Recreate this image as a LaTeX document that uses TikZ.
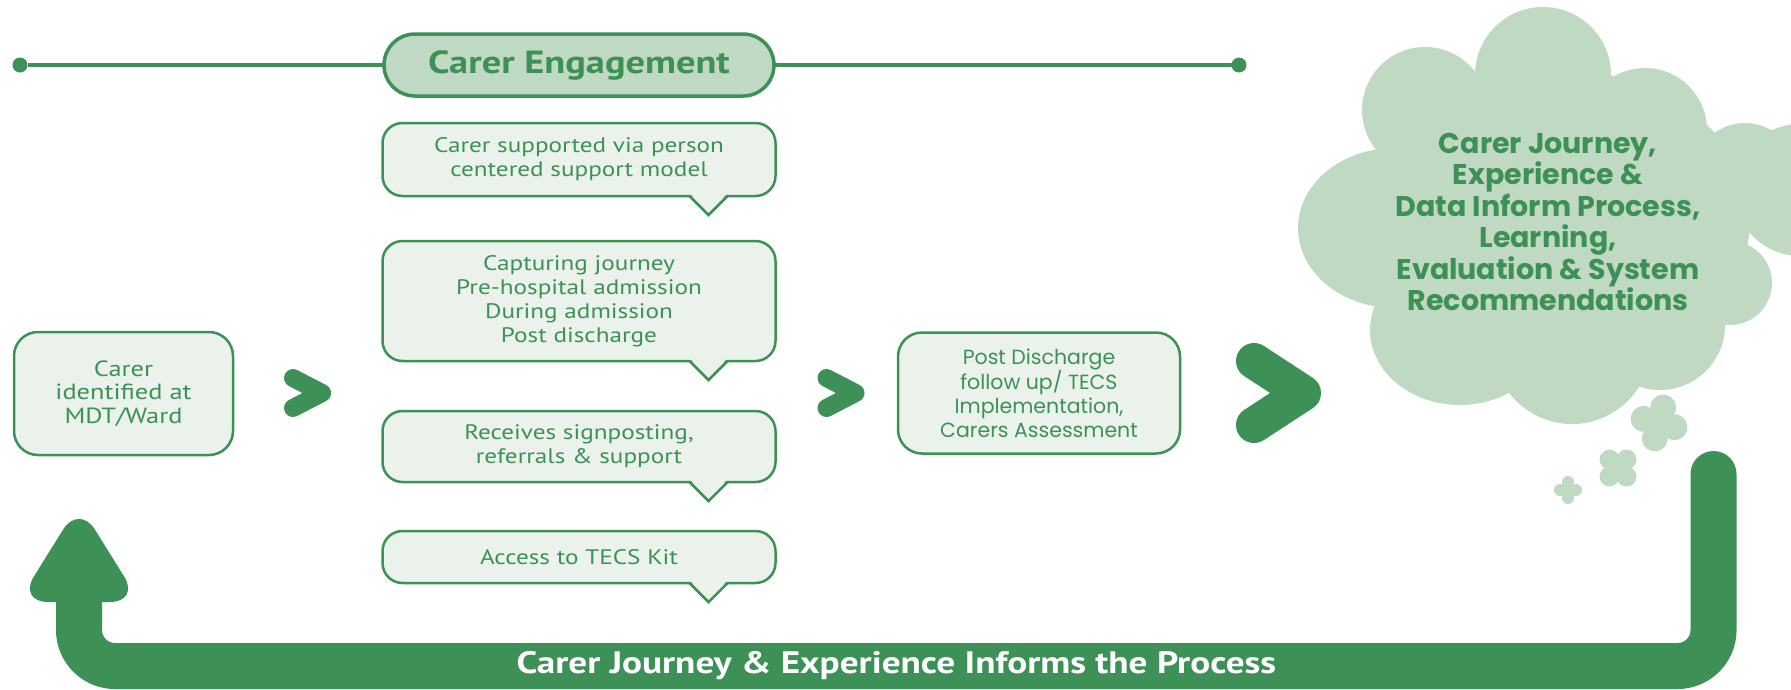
\documentclass[tikz,border=0pt]{standalone}
\usepackage{fontspec}
\setmainfont{PT Sans}[FakeStretch=1.2]
\newfontfamily\popfont{Poppins}
\usetikzlibrary{positioning}

\definecolor{leaf}{RGB}{61,145,86}
\definecolor{sage}{RGB}{192,217,194}
\definecolor{mist}{RGB}{235,242,236}

\tikzset{
  box/.style={draw=leaf, fill=mist, line width=2.5pt, rounded corners=24pt, text=leaf,
    align=center, outer sep=0pt, inner sep=0pt},
  bubble/.style={box, rounded corners=20pt, minimum width=393pt, font=\fontsize{21}{24}\selectfont},
  chev/.style={draw=leaf, line cap=round, line join=round},
  dot/.style={circle, fill=leaf, minimum size=15pt, inner sep=0pt, outer sep=0pt},
}

\begin{document}
\begin{tikzpicture}[x=1pt, y=-1pt]
    \useasboundingbox (0,0) rectangle (1791,689);
    \clip (0,0) rectangle (1791,689);

    % cloud on the right
    \begin{scope}[fill=sage]
        \fill (1543,75) circle (68pt);
        \fill (1425,110) circle (63pt);
        \fill (1645,130) circle (62pt);
        \fill (1745,175) circle (52pt);
        \fill (1800,190) circle (66pt);
        \fill (1730,283) circle (42pt);
        \fill (1660,325) circle (65pt);
        \fill (1572,345) circle (79pt);
        \fill (1460,330) ellipse (90pt and 75pt);
        \fill (1395,228) ellipse (97pt and 80pt);
        \fill (1560,220) ellipse (190pt and 150pt);
    \end{scope}
    \node[text=leaf, align=center, font=\popfont\bfseries\fontsize{28.5}{31.5}\selectfont] (cloudtxt) at (1548,222)
        {Carer Journey,\\Experience \&\\Data Inform Process,\\Learning,\\Evaluation \& System\\Recommendations};

    % little puffs under the cloud
    \begin{scope}[shift={(1659,423)}, rotate=-15, fill=sage]
        \fill (0,-16) circle (13pt) (16,0) circle (13pt) (0,16) circle (13pt) (-16,0) circle (13pt) (0,0) circle (16pt);
    \end{scope}
    \begin{scope}[shift={(1618,468)}, rotate=45, fill=sage]
        \fill (0,-12) circle (10pt) (12,0) circle (10pt) (0,12) circle (10pt) (-12,0) circle (10pt) (0,0) circle (12pt);
    \end{scope}
    \begin{scope}[shift={(1568,490)}, fill=sage]
        \fill (0,-8) circle (6pt) (8,0) circle (6pt) (0,8) circle (6pt) (-8,0) circle (6pt) (0,0) circle (7pt);
    \end{scope}

    % header
    \node[draw=leaf, fill=sage, line width=3.5pt, rounded corners=31pt, outer sep=0pt,
          minimum width=390pt, minimum height=62pt, text=leaf,
          font=\bfseries\fontsize{32}{32}\selectfont] (engage) at (579,65) {Carer Engagement};
    \node[dot] (ldot) at (20,65) {};
    \node[dot] (rdot) at (1239,65) {};
    \draw[leaf, line width=3.5pt] (ldot) -- (engage);
    \draw[leaf, line width=3.5pt] (engage) -- (rdot);

    % speech bubbles
    \node[bubble, minimum height=73pt, below=27pt of engage] (bubA) {Carer supported via person\\centered support model};
    \node[bubble, minimum height=120pt, below=45pt of bubA] (bubB) {Capturing journey\\Pre-hospital admission\\During admission\\Post discharge};
    \node[bubble, minimum height=71pt, below=50pt of bubB] (bubC) {Receives signposting,\\referrals \& support};
    \node[bubble, minimum height=52pt, below=49pt of bubC] (bubD) {Access to TECS Kit};
    \foreach \b in {bubA,bubB,bubC,bubD} {
        \fill[mist] ([xshift=-86pt,yshift=3pt]\b.south east) -- ([xshift=-67pt,yshift=-19pt]\b.south east)
            -- ([xshift=-48pt,yshift=3pt]\b.south east) -- cycle;
        \draw[leaf, line width=2.5pt] ([xshift=-86pt]\b.south east) -- ([xshift=-67pt,yshift=-19pt]\b.south east)
            -- ([xshift=-48pt]\b.south east);
    }

    % main steps
    \node[box, minimum width=219pt, minimum height=123pt, font=\fontsize{22}{23.5}\selectfont] (carer) at (123.5,393.5)
        {Carer\\identified at\\MDT/Ward};
    \node[box, minimum width=282pt, minimum height=121pt, font=\popfont\fontsize{20.5}{23.7}\selectfont] (post) at (1039,393)
        {Post Discharge\\follow up/ TECS\\Implementation,\\Carers Assessment};

    % chevrons
    \coordinate (chevA) at (307.5,393);
    \coordinate (chevB) at (841,393);
    \coordinate (chevC) at (1279,393);
    \draw[chev, line width=18pt] (chevA) ++(-14.5,-15) -- ++(29,15) -- ++(-29,15);
    \draw[chev, line width=18pt] (chevB) ++(-14.5,-15) -- ++(29,15) -- ++(-29,15);
    \draw[chev, line width=36pt] (chevC) ++(-25,-32) -- ++(49,32) -- ++(-49,32);

    % feedback loop along the bottom
    \coordinate (loopA) at (1713.5,474);
    \coordinate (loopB) at (79,602);
    \coordinate (loopbot) at (0,666);
    \draw[leaf, line width=46pt, line cap=round, rounded corners=36pt]
        (loopA) -- (loopA |- loopbot) -- (loopB |- loopbot)
        node[midway, text=white, font=\bfseries\fontsize{31}{31}\selectfont] (looptxt) {Carer Journey \& Experience Informs the Process}
        -- (loopB);
    \fill[leaf, rounded corners=30pt] (loopB) ++(-61,0) -- ++(61,-98) -- ++(61,98) -- cycle;

\end{tikzpicture}
\end{document}
